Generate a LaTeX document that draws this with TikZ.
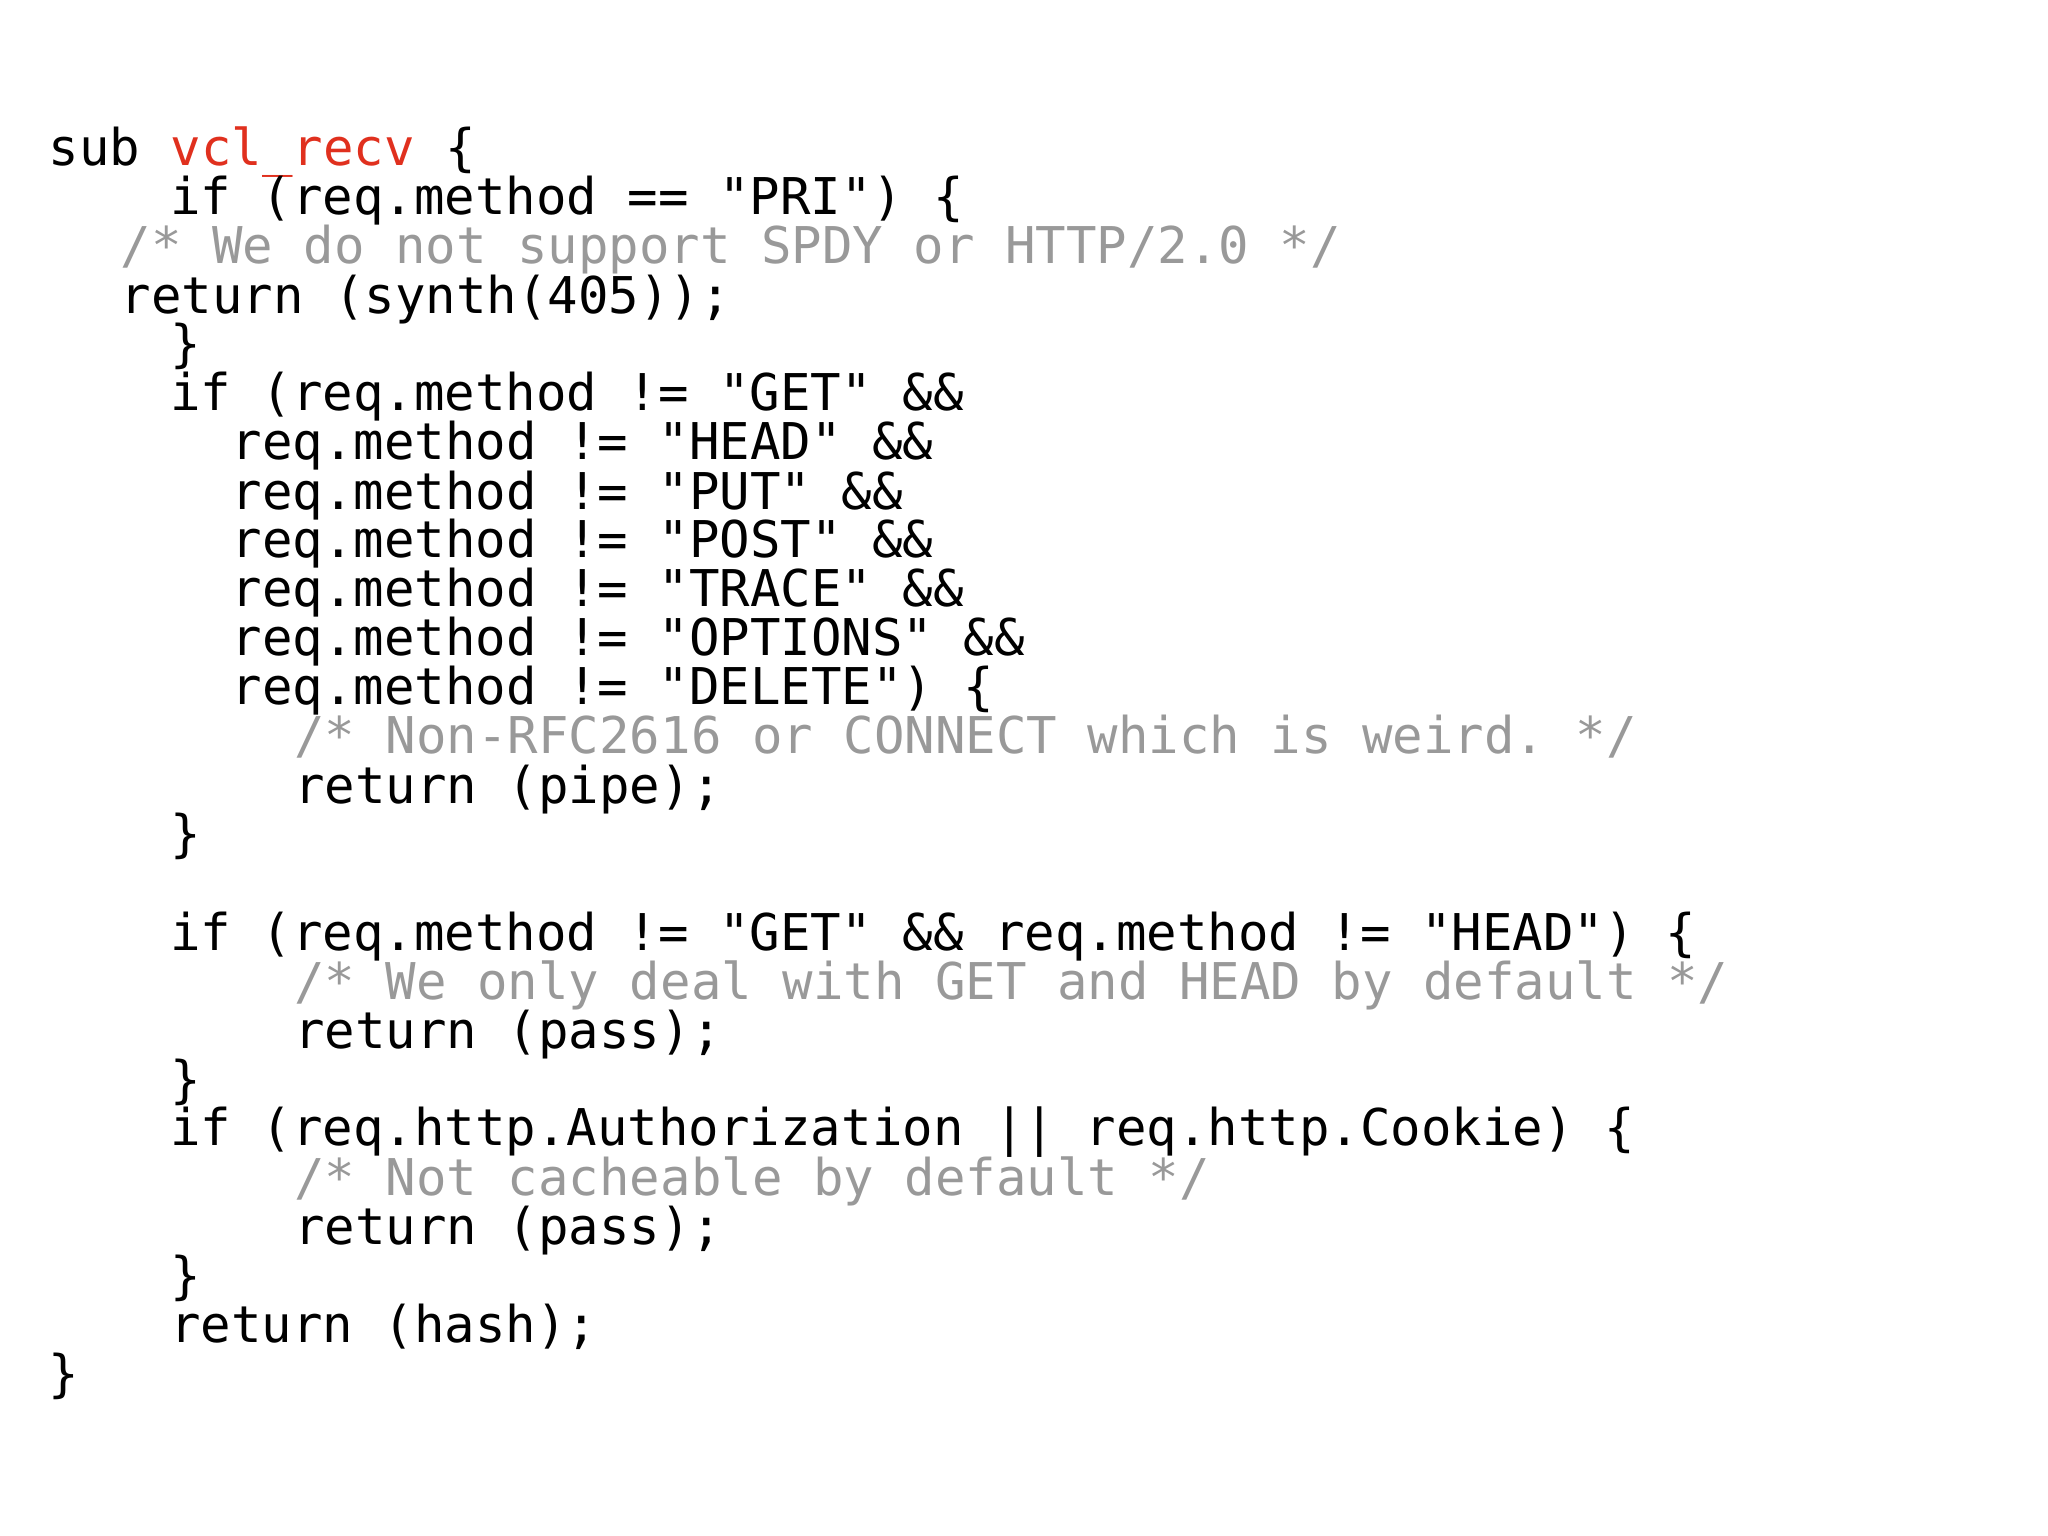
\documentclass[tikz,border=0pt]{standalone}
\usepackage{fontspec}
\setmonofont{DejaVu Sans Mono}
\begin{document}
\begin{tikzpicture}[x=0.5pt,y=-0.5pt,
  ln/.style={anchor=base west,inner sep=0pt,font=\ttfamily\fontsize{19.4pt}{20pt}\selectfont,text=black},
  cmt/.style={ln,text=black!40}]
\definecolor{vred}{HTML}{E0301E}
\useasboundingbox (0,0) rectangle (1568,1176);
\node[ln] (l1) at (37,127) {sub \textcolor{vred}{vcl\_recv} \{};
\node[ln] (l2) at (130,164) {if (req.method == "PRI") \{};
\node[cmt] (l3) at (92,202) {/* We do not support SPDY or HTTP/2.0 */};
\node[ln] (l4) at (92,240) {return (synth(405));};
\node[ln] (l5) at (130,277) {\}};
\node[ln] (l6) at (130,314) {if (req.method != "GET" \&\&};
\node[ln] (l7) at (177,352) {req.method != "HEAD" \&\&};
\node[ln] (l8) at (177,390) {req.method != "PUT" \&\&};
\node[ln] (l9) at (177,427) {req.method != "POST" \&\&};
\node[ln] (l10) at (177,464) {req.method != "TRACE" \&\&};
\node[ln] (l11) at (177,502) {req.method != "OPTIONS" \&\&};
\node[ln] (l12) at (177,539) {req.method != "DELETE") \{};
\node[cmt] (l13) at (225,577) {/* Non-RFC2616 or CONNECT which is weird. */};
\node[ln] (l14) at (225,615) {return (pipe);};
\node[ln] (l15) at (130,652) {\}};
\node[ln] (l16) at (130,728) {if (req.method != "GET" \&\& req.method != "HEAD") \{};
\node[cmt] (l17) at (225,765) {/* We only deal with GET and HEAD by default */};
\node[ln] (l18) at (225,803) {return (pass);};
\node[ln] (l19) at (130,840) {\}};
\node[ln] (l20) at (130,877) {if (req.http.Authorization || req.http.Cookie) \{};
\node[cmt] (l21) at (225,915) {/* Not cacheable by default */};
\node[ln] (l22) at (225,953) {return (pass);};
\node[ln] (l23) at (130,990) {\}};
\node[ln] (l24) at (130,1028) {return (hash);};
\node[ln] (l25) at (37,1065) {\}};
\end{tikzpicture}
\end{document}
